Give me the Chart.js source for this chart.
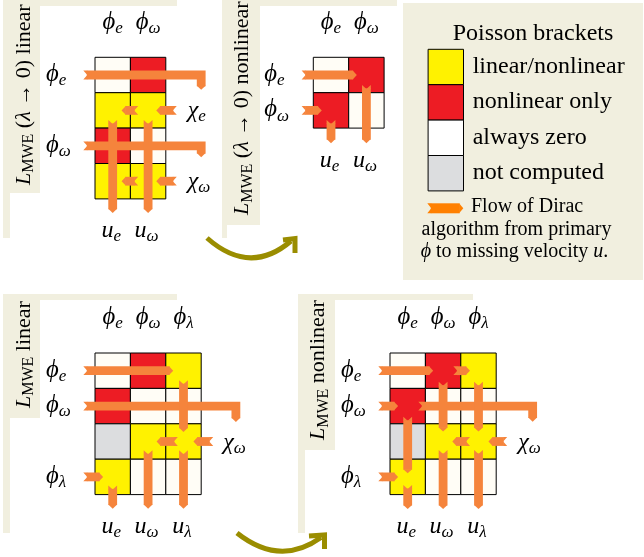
<!DOCTYPE html>
<html>
<head>
<meta charset="utf-8">
<script src="https://cdn.jsdelivr.net/npm/chart.js@4.4.1/dist/chart.umd.min.js"></script>
<style>
html,body{margin:0;padding:0;background:#fff;}
#wrap{position:relative;width:644px;height:557px;}
canvas{display:block;}
</style>
</head>
<body>
<div id="wrap"><canvas id="c" width="644" height="557"></canvas></div>
<script>
// ================= DATA =================
// Poisson bracket categories (legend order) and the codes used in the matrices
const categories = ['linear/nonlinear', 'nonlinear only', 'always zero', 'not computed'];
const categoryCodes = ['Y', 'R', 'W', 'G'];
const legendTitle = 'Poisson brackets';
const legendNote = ['Flow of Dirac', 'algorithm from primary', '$ϕ$ to missing velocity $u$.'];

// panel titles ($..$ = italic, _{..} = subscript)
const panelTitles = [
  '$L$_{MWE} ($λ$ → 0) linear',
  '$L$_{MWE} ($λ$ → 0) nonlinear',
  '$L$_{MWE} linear',
  '$L$_{MWE} nonlinear'
];

// Matrix 1: L_MWE (λ→0) linear
const m1Cols = ['$ϕ$_{$e$}', '$ϕ$_{$ω$}'];
const m1RowsLeft = ['$ϕ$_{$e$}', '', '$ϕ$_{$ω$}', ''];
const m1RowsRight = ['', '$χ$_{$e$}', '', '$χ$_{$ω$}'];
const m1Bottom = ['$u$_{$e$}', '$u$_{$ω$}'];
const m1Cells = [['W','R'], ['Y','Y'], ['R','W'], ['Y','Y']];
// flow arrows in grid units [column, row], tail first, head last
const m1Arrows = [
  [[-0.33,0.5],[3.0,0.5],[3.0,0.92]],
  [[-0.33,2.5],[3.0,2.5],[3.0,2.82]],
  [[2.31,1.5],[1.73,1.5]],
  [[1.22,1.5],[0.75,1.5]],
  [[2.31,3.5],[1.73,3.5]],
  [[1.22,3.5],[0.75,3.5]],
  [[0.5,1.77],[0.5,4.4]],
  [[1.5,1.77],[1.5,4.4]]
];

// Matrix 2: L_MWE (λ→0) nonlinear
const m2Cols = ['$ϕ$_{$e$}', '$ϕ$_{$ω$}'];
const m2RowsLeft = ['$ϕ$_{$e$}', '$ϕ$_{$ω$}'];
const m2RowsRight = ['', ''];
const m2Bottom = ['$u$_{$e$}', '$u$_{$ω$}'];
const m2Cells = [['W','R'], ['R','W']];
const m2Arrows = [
  [[-0.33,0.5],[1.23,0.5]],
  [[-0.33,1.5],[0.24,1.5]],
  [[0.5,1.77],[0.5,2.43]],
  [[1.5,0.78],[1.5,2.43]]
];

// Matrix 3: L_MWE linear
const m3Cols = ['$ϕ$_{$e$}', '$ϕ$_{$ω$}', '$ϕ$_{$λ$}'];
const m3RowsLeft = ['$ϕ$_{$e$}', '$ϕ$_{$ω$}', '', '$ϕ$_{$λ$}'];
const m3RowsRight = ['', '', '$χ$_{$ω$}', ''];
const m3Bottom = ['$u$_{$e$}', '$u$_{$ω$}', '$u$_{$λ$}'];
const m3Cells = [['W','R','Y'], ['R','W','W'], ['G','Y','Y'], ['Y','W','W']];
const m3Arrows = [
  [[-0.33,0.5],[2.21,0.5]],
  [[-0.33,1.5],[3.98,1.5],[3.98,1.95]],
  [[3.34,2.5],[2.78,2.5]],
  [[2.34,2.5],[1.74,2.5]],
  [[-0.33,3.5],[0.23,3.5]],
  [[0.5,3.74],[0.5,4.4]],
  [[1.5,2.75],[1.5,4.4]],
  [[2.5,0.77],[2.5,2.23]],
  [[2.5,2.75],[2.5,4.4]]
];

// Matrix 4: L_MWE nonlinear
const m4Cols = ['$ϕ$_{$e$}', '$ϕ$_{$ω$}', '$ϕ$_{$λ$}'];
const m4RowsLeft = ['$ϕ$_{$e$}', '$ϕ$_{$ω$}', '', '$ϕ$_{$λ$}'];
const m4RowsRight = ['', '', '$χ$_{$ω$}', ''];
const m4Bottom = ['$u$_{$e$}', '$u$_{$ω$}', '$u$_{$λ$}'];
const m4Cells = [['W','R','Y'], ['R','W','W'], ['G','Y','Y'], ['Y','W','W']];
const m4Arrows = [
  [[-0.33,0.5],[1.22,0.5]],
  [[1.79,0.5],[2.26,0.5]],
  [[-0.33,1.5],[0.23,1.5]],
  [[0.8,1.5],[4.03,1.5],[4.03,1.94]],
  [[3.31,2.5],[2.78,2.5]],
  [[2.26,2.5],[1.76,2.5]],
  [[-0.33,3.5],[0.23,3.5]],
  [[0.5,1.8],[0.5,3.4]],
  [[0.5,3.73],[0.5,4.41]],
  [[1.5,0.81],[1.5,2.22]],
  [[1.5,2.74],[1.5,4.41]],
  [[2.5,0.81],[2.5,2.22]],
  [[2.5,2.74],[2.5,4.41]]
];

// ================= LAYOUT & STYLE =================
const CELL = 35.4;
const FF = '"Liberation Serif","Times New Roman","DejaVu Serif",serif';
const COLORS = {Y:'#fff200', R:'#ed1c24', W:'#fffdf6', G:'#dcdddf'};
const BEIGE = '#f1efdf';
const ORANGE = '#f5843c';
const LEGEND_ORANGE = '#ff8000';
const OLIVE = '#9a8d00';
const MATH_SIZE = 24;
const PHI_INK = 21.5;     // target ink height of the large ϕ glyphs
const CHI_INK = 16;       // target ink height of the χ glyphs

const matrixLayout = [
  {x0:95,    y0:57.3},
  {x0:313.3, y0:57.3},
  {x0:95,    y0:353},
  {x0:390,   y0:353}
];
const panels = [
  {beige:[3,0,177,238],    whites:[[40,6,222,238],[10,193,222,238]],     title:{x:29.5, y:185}},
  {beige:[222,0,397,238],  whites:[[260,6,401,238],[227,225,401,238]],   title:{x:248,  y:215}},
  {beige:[3,294,177,533],  whites:[[40,300,297,533],[10,418,297,533]],   title:{x:29.5, y:408}},
  {beige:[298,294,473,533],whites:[[335,300,644,533],[305,450,644,533]], title:{x:324,  y:440}}
];
const legendBox = [403,3,643,280];
const legendSwatch = {x:445.8, y0:49.3};

const matrices = [
  {cols:m1Cols, left:m1RowsLeft, right:m1RowsRight, bottom:m1Bottom, cells:m1Cells, arrows:m1Arrows},
  {cols:m2Cols, left:m2RowsLeft, right:m2RowsRight, bottom:m2Bottom, cells:m2Cells, arrows:m2Arrows},
  {cols:m3Cols, left:m3RowsLeft, right:m3RowsRight, bottom:m3Bottom, cells:m3Cells, arrows:m3Arrows},
  {cols:m4Cols, left:m4RowsLeft, right:m4RowsRight, bottom:m4Bottom, cells:m4Cells, arrows:m4Arrows}
];

// ================= RICH TEXT =================
function parseRich(s, sub) {
  const runs = []; let it = false; let buf = '';
  const flush = () => { if (buf) { runs.push({t:buf, it:it, sub:!!sub}); buf = ''; } };
  for (let i = 0; i < s.length; i++) {
    const c = s[i];
    if (c === '$') { flush(); it = !it; continue; }
    if (c === '_') {
      flush();
      if (s[i+1] === '{') {
        let depth = 1, j = i + 2;
        while (j < s.length && depth) { if (s[j] === '{') depth++; else if (s[j] === '}') depth--; j++; }
        parseRich(s.slice(i+2, j-1), true).forEach(r => runs.push(r));
        i = j - 1;
      }
      continue;
    }
    buf += c;
  }
  flush();
  return runs;
}
let glyphScale = {};  // per-glyph size factors for the big math labels
function runSize(r, size, big) {
  if (r.sub) return Math.round(size*0.72);
  if (big && glyphScale[r.t]) return size*glyphScale[r.t];
  return size;
}
function runFont(r, size, big) {
  return (r.it ? 'italic ' : '') + runSize(r, size, big).toFixed(2) + 'px ' + FF;
}
function drawRich(ctx, str, x, y, size, align, big) {
  if (!str) return;
  const runs = parseRich(str, false);
  let w = 0;
  runs.forEach(r => { ctx.font = runFont(r, size, big); w += ctx.measureText(r.t).width; });
  let cx = align === 'center' ? x - w/2 : (align === 'right' ? x - w : x);
  ctx.textAlign = 'left';
  ctx.textBaseline = 'alphabetic';
  runs.forEach(r => {
    ctx.font = runFont(r, size, big);
    ctx.fillText(r.t, cx, y + (r.sub ? size*0.17 : 0));
    cx += ctx.measureText(r.t).width;
  });
}
function inkMetrics(ctx, ch, size) {
  ctx.font = 'italic ' + size + 'px ' + FF;
  const m = ctx.measureText(ch);
  return {asc: m.actualBoundingBoxAscent, desc: m.actualBoundingBoxDescent};
}

// ================= DRAW HELPERS =================
function drawFlow(ctx, pts, h, color) {
  const n = 4, p = 4.2;
  const N = pts.length;
  const unit = (a, b) => { const dx = b[0]-a[0], dy = b[1]-a[1]; const l = Math.hypot(dx, dy); return [dx/l, dy/l]; };
  const tail = pts[0], dT = unit(pts[0], pts[1]);
  const tip = pts[N-1], dH = unit(pts[N-2], pts[N-1]);
  ctx.save();
  ctx.fillStyle = color; ctx.strokeStyle = color;
  ctx.lineWidth = h; ctx.lineCap = 'butt'; ctx.lineJoin = 'miter';
  ctx.beginPath();
  ctx.moveTo(tail[0] + dT[0]*(n-0.5), tail[1] + dT[1]*(n-0.5));
  for (let i = 1; i < N-1; i++) ctx.lineTo(pts[i][0], pts[i][1]);
  ctx.lineTo(tip[0] - dH[0]*(p-0.5), tip[1] - dH[1]*(p-0.5));
  ctx.stroke();
  const pH = [-dH[1], dH[0]];
  const bx = tip[0] - dH[0]*p, by = tip[1] - dH[1]*p;
  ctx.beginPath();
  ctx.moveTo(bx + pH[0]*h/2, by + pH[1]*h/2);
  ctx.lineTo(tip[0], tip[1]);
  ctx.lineTo(bx - pH[0]*h/2, by - pH[1]*h/2);
  ctx.closePath(); ctx.fill();
  const pT = [-dT[1], dT[0]];
  const ix = tail[0] + dT[0]*n, iy = tail[1] + dT[1]*n;
  ctx.beginPath();
  ctx.moveTo(tail[0] + pT[0]*h/2, tail[1] + pT[1]*h/2);
  ctx.lineTo(ix + pT[0]*h/2, iy + pT[1]*h/2);
  ctx.lineTo(ix - pT[0]*h/2, iy - pT[1]*h/2);
  ctx.lineTo(tail[0] - pT[0]*h/2, tail[1] - pT[1]*h/2);
  ctx.lineTo(ix, iy);
  ctx.closePath(); ctx.fill();
  ctx.restore();
}
function drawCurve(ctx, s, c, e, tip, a1, a2) {
  ctx.save();
  ctx.strokeStyle = OLIVE; ctx.lineWidth = 5; ctx.lineCap = 'butt'; ctx.lineJoin = 'miter';
  ctx.beginPath(); ctx.moveTo(s[0], s[1]); ctx.quadraticCurveTo(c[0], c[1], e[0], e[1]); ctx.stroke();
  ctx.beginPath(); ctx.moveTo(a1[0], a1[1]); ctx.lineTo(tip[0], tip[1]); ctx.lineTo(a2[0], a2[1]); ctx.stroke();
  ctx.restore();
}

// ================= DATASETS (cells via scatter rects) =================
const cellRadius = CELL / Math.SQRT2;
const datasets = matrices.map((m, k) => {
  const L = matrixLayout[k];
  const pts = [], bg = [];
  m.cells.forEach((row, i) => row.forEach((code, j) => {
    pts.push({x: L.x0 + (j + 0.5)*CELL, y: L.y0 + (i + 0.5)*CELL});
    bg.push(COLORS[code]);
  }));
  return {
    label: panelTitles[k], data: pts, pointStyle: 'rect',
    pointRadius: cellRadius, pointHoverRadius: cellRadius,
    pointBackgroundColor: bg, pointBorderColor: '#000', pointBorderWidth: 1, pointHoverBorderWidth: 1,
    showLine: false
  };
});
datasets.push({
  label: legendTitle,
  data: categories.map((c, i) => ({x: legendSwatch.x, y: legendSwatch.y0 + (i + 0.5)*CELL})),
  pointStyle: 'rect', pointRadius: cellRadius, pointHoverRadius: cellRadius,
  pointBackgroundColor: categoryCodes.map(c => c === 'W' ? '#ffffff' : COLORS[c]),
  pointBorderColor: '#000', pointBorderWidth: 1, showLine: false
});

// ================= PLUGIN =================
const diagramPlugin = {
  id: 'diagram',
  beforeDatasetsDraw(chart) {
    const ctx = chart.ctx, X = chart.scales.x, Y = chart.scales.y;
    const rect = (r, col) => {
      const x1 = X.getPixelForValue(r[0]), y1 = Y.getPixelForValue(r[1]);
      const x2 = X.getPixelForValue(r[2]), y2 = Y.getPixelForValue(r[3]);
      ctx.fillStyle = col; ctx.fillRect(x1, y1, x2 - x1, y2 - y1);
    };
    ctx.save();
    panels.forEach(p => { rect(p.beige, BEIGE); p.whites.forEach(w => rect(w, '#ffffff')); });
    rect(legendBox, BEIGE);
    ctx.restore();
  },
  afterDatasetsDraw(chart) {
    const ctx = chart.ctx, X = chart.scales.x, Y = chart.scales.y;
    const P = (x, y) => [X.getPixelForValue(x), Y.getPixelForValue(y)];
    // flow arrows
    matrices.forEach((m, k) => {
      const L = matrixLayout[k];
      m.arrows.forEach(a => {
        drawFlow(ctx, a.map(q => P(L.x0 + q[0]*CELL, L.y0 + q[1]*CELL)), 8.8, ORANGE);
      });
    });
    // curved transition arrows
    drawCurve(ctx, P(207,238), P(250,276), P(291,241), P(295,238.5), P(283,240), P(295,253));
    drawCurve(ctx, P(237,533), P(280,567), P(321,537.5), P(324.5,535), P(309,536), P(324.5,549));
    // legend arrow
    drawFlow(ctx, [P(427.3,208.3), P(463.3,208.3)], 10, LEGEND_ORANGE);

    ctx.save();
    ctx.fillStyle = '#000';
    // size the big ϕ / χ glyphs from their ink height
    const phi0 = inkMetrics(ctx, 'ϕ', MATH_SIZE);
    const chi0 = inkMetrics(ctx, 'χ', MATH_SIZE);
    glyphScale = {'ϕ': PHI_INK/(phi0.asc + phi0.desc), 'χ': CHI_INK/(chi0.asc + chi0.desc)};
    const phiAsc = phi0.asc * glyphScale['ϕ'];
    // matrix labels
    matrices.forEach((m, k) => {
      const L = matrixLayout[k];
      const nc = m.cols.length, nr = m.cells.length;
      m.cols.forEach((s, j) => { const q = P(L.x0 + (j+0.5)*CELL, L.y0 - 45 + phiAsc); drawRich(ctx, s, q[0], q[1], MATH_SIZE, 'center', true); });
      m.left.forEach((s, i) => { const q = P(L.x0 - 49, L.y0 + (i+0.5)*CELL - 10.3 + phiAsc); drawRich(ctx, s, q[0], q[1], MATH_SIZE, 'left', true); });
      m.right.forEach((s, i) => { const q = P(L.x0 + nc*CELL + 22, L.y0 + (i+0.5)*CELL + 7); drawRich(ctx, s, q[0], q[1], MATH_SIZE, 'left', true); });
      m.bottom.forEach((s, j) => { const q = P(L.x0 + (j+0.5)*CELL - 1.5, L.y0 + nr*CELL + 38.5); drawRich(ctx, s, q[0], q[1], MATH_SIZE, 'center', true); });
    });
    // rotated panel titles
    panels.forEach((p, k) => {
      const q = P(p.title.x, p.title.y);
      ctx.save();
      ctx.translate(q[0], q[1]);
      ctx.rotate(-Math.PI/2);
      drawRich(ctx, panelTitles[k], 0, 0, 22, 'left', false);
      ctx.restore();
    });
    // legend texts
    let q = P(533, 40);
    drawRich(ctx, legendTitle, q[0], q[1], 24, 'center', false);
    categories.forEach((c, i) => {
      const r = P(472.7, legendSwatch.y0 + (i+0.5)*CELL + 6);
      drawRich(ctx, c, r[0], r[1], 24, 'left', false);
    });
    q = P(471, 211.5); drawRich(ctx, legendNote[0], q[0], q[1], 20, 'left', false);
    q = P(421.5, 234.5); drawRich(ctx, legendNote[1], q[0], q[1], 20, 'left', false);
    q = P(420.7, 257); drawRich(ctx, legendNote[2], q[0], q[1], 20, 'left', false);
    ctx.restore();
  }
};

// ================= CHART =================
new Chart(document.getElementById('c'), {
  type: 'scatter',
  data: { datasets: datasets },
  options: {
    responsive: false,
    animation: false,
    events: [],
    layout: { padding: 0, autoPadding: false },
    plugins: { legend: { display: false }, tooltip: { enabled: false }, title: { display: false } },
    scales: {
      x: { type: 'linear', min: 0, max: 644, display: false },
      y: { type: 'linear', min: 0, max: 557, reverse: true, display: false }
    }
  },
  plugins: [diagramPlugin]
});
</script>
</body>
</html>
